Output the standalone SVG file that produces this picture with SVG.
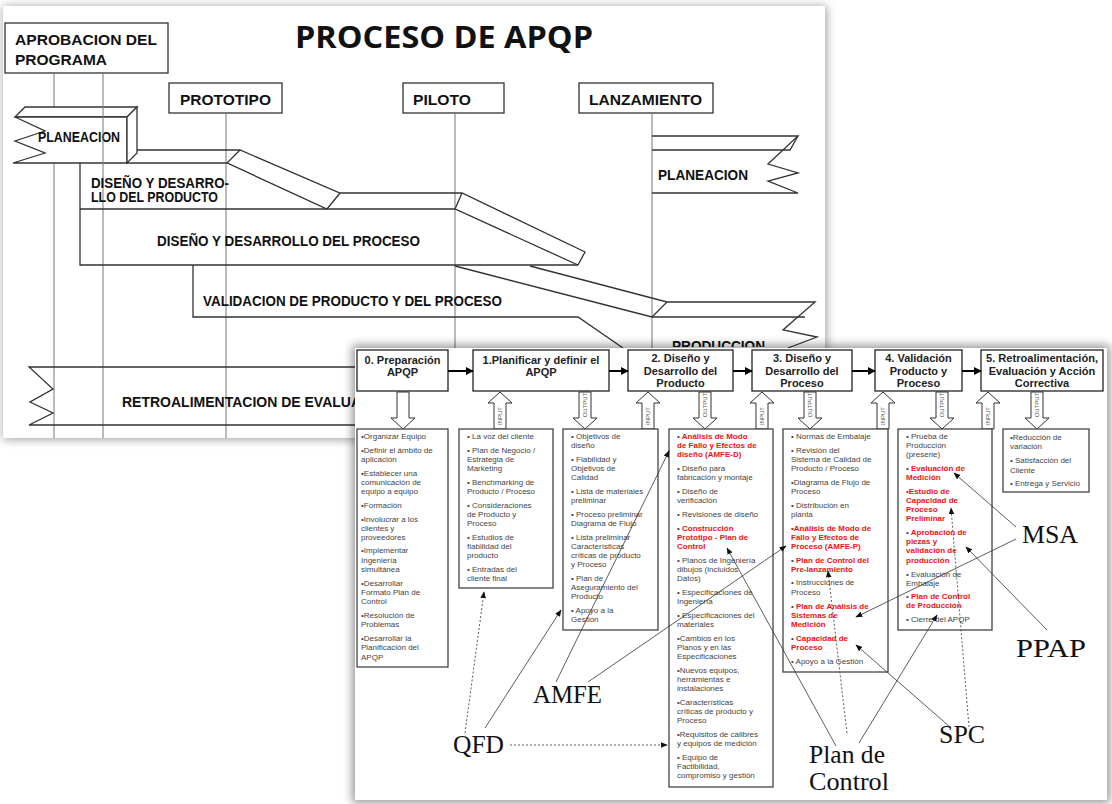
<svg xmlns="http://www.w3.org/2000/svg" width="1112" height="804" viewBox="0 0 1112 804">
<defs>
<filter id="blur" x="-10%" y="-10%" width="120%" height="120%"><feGaussianBlur stdDeviation="5"/></filter>
<clipPath id="topclip"><rect x="0" y="0" width="1112" height="347"/></clipPath>
<marker id="hd" viewBox="0 0 10 10" refX="9" refY="5" markerWidth="8" markerHeight="8" markerUnits="userSpaceOnUse" orient="auto"><path d="M0,0 L10,5 L0,10 z" fill="#000"/></marker>
<marker id="ah" viewBox="0 0 10 10" refX="9" refY="5" markerWidth="7" markerHeight="7" markerUnits="userSpaceOnUse" orient="auto"><path d="M0,1 L10,5 L0,9 z" fill="#111"/></marker>
<path id="dn" d="M-6,0 h12 v26 h6 l-12,11 l-12,-11 h6 z"/>
<path id="up" d="M0,0 l12,11 h-6 v26 h-12 v-26 h-6 z"/>
</defs>
<style>
.bl{fill:none;stroke:#333;stroke-width:1.3}
.bf{fill:#fff;stroke:#333;stroke-width:1.3}
.vl{stroke:#777;stroke-width:1}
.bt{font-family:"Liberation Sans",Arial,sans-serif;font-weight:bold;font-size:14px;fill:#111}
.hb{fill:#fff;stroke:#222;stroke-width:1.3}
.ht{font-family:"Liberation Sans",Arial,sans-serif;font-weight:bold;font-size:11px;fill:#222;text-anchor:middle}
.ba{fill:#fff;stroke:#333;stroke-width:1}
.al{font-family:"Liberation Sans",Arial,sans-serif;font-size:6px;fill:#555;text-anchor:middle}
.cb{fill:#fff;stroke:#444;stroke-width:1.3}
.t{font-family:"Liberation Sans",Arial,sans-serif;font-size:8px;fill:#444}
.r{font-family:"Liberation Sans",Arial,sans-serif;font-size:8px;fill:#ee1111;font-weight:bold}
.g{fill:#444;font-weight:normal}
.lb{font-family:"Liberation Serif","Times New Roman",serif;font-size:25px;fill:#111}
.cn{fill:none;stroke:#333;stroke-width:0.8;marker-end:url(#ah)}
.dt{stroke-dasharray:2,2}
.ha{stroke:#000;stroke-width:2;marker-end:url(#hd)}
</style>
<rect width="1112" height="804" fill="#fff"/>

<!-- back slide -->
<g id="back-slide">
<rect x="3" y="6" width="824" height="434" fill="#000" opacity="0.35" filter="url(#blur)"/>
<rect x="3" y="6" width="822" height="432" fill="#fff"/>
<text x="295" y="48" font-family="'Open Sans','Liberation Sans',sans-serif" font-weight="bold" font-size="30" fill="#111" textLength="298" lengthAdjust="spacingAndGlyphs">PROCESO DE APQP</text>

<g id="milestone-aprobacion">
<rect x="5" y="23" width="163" height="50" class="bl"/>
<text class="bt" font-size="17" x="15" y="45" textLength="142" lengthAdjust="spacingAndGlyphs">APROBACION DEL</text>
<text class="bt" font-size="17" x="15" y="65" textLength="92" lengthAdjust="spacingAndGlyphs">PROGRAMA</text>
</g>
<g id="milestone-prototipo">
<rect x="169" y="83" width="113" height="30" class="bl"/>
<text class="bt" font-size="16" x="180" y="105" textLength="91" lengthAdjust="spacingAndGlyphs">PROTOTIPO</text>
</g>
<g id="milestone-piloto">
<rect x="403" y="83" width="101" height="30" class="bl"/>
<text class="bt" font-size="16" x="413" y="105" textLength="58" lengthAdjust="spacingAndGlyphs">PILOTO</text>
</g>
<g id="milestone-lanzamiento">
<rect x="579" y="83" width="134" height="30" class="bl"/>
<text class="bt" font-size="16" x="589" y="105" textLength="113" lengthAdjust="spacingAndGlyphs">LANZAMIENTO</text>
</g>

<g id="timelines">
<line class="vl" x1="54" y1="73" x2="54" y2="107"/>
<line class="vl" x1="54" y1="160" x2="54" y2="438"/>
<line class="vl" x1="226" y1="113" x2="226" y2="438"/>
<line class="vl" x1="455" y1="113" x2="455" y2="438"/>
<line class="vl" x1="652" y1="113" x2="652" y2="438"/>
</g>

<g id="band-planeacion-left">
<polygon class="bf" points="15,117 25,107 137,107 127,117"/>
<path class="bf" d="M15,117 L127,117 L127,163 L13,163 L45,153 L15,141 L45,131 Z"/>
<polygon class="bf" points="127,117 137,107 137,153 127,163"/>
<text class="bt" x="38" y="142" textLength="82" lengthAdjust="spacingAndGlyphs">PLANEACION</text>
</g>
<line class="vl" x1="103" y1="73" x2="103" y2="438"/>

<g id="band-producto" class="bl">
<path d="M137,150 L240,150 L340,193 L462,193 L585,252 L578,265"/>
<path d="M127,163 L227,163 L327,209 L455,209 L578,265"/>
<path d="M227,163 L240,150 M327,209 L340,193 M455,209 L462,193"/>
<path d="M80,163 L80,265 L578,265 M80,209 L327,209"/>
</g>
<text class="bt" x="91" y="188" textLength="138" lengthAdjust="spacingAndGlyphs">DISEÑO Y DESARRO-</text>
<text class="bt" x="91" y="202" textLength="127" lengthAdjust="spacingAndGlyphs">LLO DEL PRODUCTO</text>
<text class="bt" x="157" y="246" textLength="263" lengthAdjust="spacingAndGlyphs">DISEÑO Y DESARROLLO DEL PROCESO</text>

<g id="band-validacion" class="bl">
<path d="M193,265 L193,317 L578,317 L623,348"/>
<path d="M455,266 L652,317 L805,317"/>
<path d="M530,266 L667,302 L815,302 L783,330 L817,337 L788,348"/>
<path d="M667,302 L652,317"/>
</g>
<text class="bt" x="203" y="306" textLength="299" lengthAdjust="spacingAndGlyphs">VALIDACION DE PRODUCTO Y DEL PROCESO</text>
<g clip-path="url(#topclip)"><text class="bt" x="672" y="351" textLength="93" lengthAdjust="spacingAndGlyphs">PRODUCCION</text></g>

<g id="band-planeacion-right" class="bl">
<path d="M652,136 L798,136 L768,164 L798,173 L768,181 L798,193 L652,193"/>
<path d="M652,150 L790,150 L798,136"/>
</g>
<text class="bt" x="658" y="180" textLength="90" lengthAdjust="spacingAndGlyphs">PLANEACION</text>

<g id="band-retro">
<path class="bl" d="M360,367 L29,367 L53,389 L30,402 L53,413 L29,425 L360,425"/>
<text class="bt" x="122" y="407">RETROALIMENTACION DE EVALUACION</text>
</g>
</g>

<!-- front slide -->
<rect x="352" y="345" width="758" height="458" fill="#000" opacity="0.4" filter="url(#blur)"/>
<rect x="355" y="348" width="752" height="452" fill="#fff"/>

<g id="phase-0"><rect class="hb" x="357" y="350" width="91" height="41"/><text class="ht" x="402.5" y="364">0. Preparación</text><text class="ht" x="402.5" y="376">APQP</text></g>
<g id="phase-1"><rect class="hb" x="473" y="350" width="136" height="41"/><text class="ht" x="541" y="364">1.Planificar y definir el</text><text class="ht" x="541" y="376">APQP</text></g>
<g id="phase-2"><rect class="hb" x="628" y="350" width="105" height="41"/><text class="ht" x="680.5" y="362">2. Diseño y</text><text class="ht" x="680.5" y="374.5">Desarrollo del</text><text class="ht" x="680.5" y="387">Producto</text></g>
<g id="phase-3"><rect class="hb" x="752" y="350" width="100" height="41"/><text class="ht" x="802" y="362">3. Diseño y</text><text class="ht" x="802" y="374.5">Desarrollo del</text><text class="ht" x="802" y="387">Proceso</text></g>
<g id="phase-4"><rect class="hb" x="875" y="350" width="87" height="41"/><text class="ht" x="918.5" y="362">4. Validación</text><text class="ht" x="918.5" y="374.5">Producto y</text><text class="ht" x="918.5" y="387">Proceso</text></g>
<g id="phase-5"><rect class="hb" x="981" y="350" width="122" height="41"/><text class="ht" x="1042" y="362" textLength="112" lengthAdjust="spacingAndGlyphs">5. Retroalimentación,</text><text class="ht" x="1042" y="374.5">Evaluación y Acción</text><text class="ht" x="1042" y="387">Correctiva</text></g>

<g id="io-arrows">
<use href="#dn" x="403" y="392" class="ba"/>
<use href="#up" x="500" y="392" class="ba"/><text class="al" transform="translate(502.2,416) rotate(-90)">INPUT</text>
<use href="#dn" x="585" y="392" class="ba"/><text class="al" transform="translate(587.2,405) rotate(-90)">OUTPUT</text>
<use href="#up" x="648" y="392" class="ba"/><text class="al" transform="translate(650.2,416) rotate(-90)">INPUT</text>
<use href="#dn" x="705" y="392" class="ba"/><text class="al" transform="translate(707.2,405) rotate(-90)">OUTPUT</text>
<use href="#up" x="762" y="392" class="ba"/><text class="al" transform="translate(764.2,416) rotate(-90)">INPUT</text>
<use href="#dn" x="810" y="392" class="ba"/><text class="al" transform="translate(812.2,405) rotate(-90)">OUTPUT</text>
<use href="#up" x="883" y="392" class="ba"/><text class="al" transform="translate(885.2,416) rotate(-90)">INPUT</text>
<use href="#dn" x="942" y="392" class="ba"/><text class="al" transform="translate(944.2,405) rotate(-90)">OUTPUT</text>
<use href="#up" x="988" y="392" class="ba"/><text class="al" transform="translate(990.2,416) rotate(-90)">INPUT</text>
<use href="#dn" x="1037" y="392" class="ba"/><text class="al" transform="translate(1039.2,405) rotate(-90)">OUTPUT</text>
</g>

<g id="list-0">
<rect class="cb" x="357" y="429" width="91" height="238"/>
<text class="t" x="361" y="439">•Organizar Equipo</text>
<text class="t" x="361" y="453">•Definir el ámbito de</text>
<text class="t" x="361" y="462">aplicación</text>
<text class="t" x="361" y="475.5">•Establecer una</text>
<text class="t" x="361" y="484.7">comunicación de</text>
<text class="t" x="361" y="494">equipo a equipo</text>
<text class="t" x="361" y="508">•Formación</text>
<text class="t" x="361" y="521.5">•Involucrar a los</text>
<text class="t" x="361" y="530.5">clientes y</text>
<text class="t" x="361" y="540">proveedores</text>
<text class="t" x="361" y="553">•Implementar</text>
<text class="t" x="361" y="562.7">Ingeniería</text>
<text class="t" x="361" y="572">simultánea</text>
<text class="t" x="361" y="585.5">•Desarrollar</text>
<text class="t" x="361" y="594.7">Formato Plan de</text>
<text class="t" x="361" y="604">Control</text>
<text class="t" x="361" y="617.5">•Resolución  de</text>
<text class="t" x="361" y="626.5">Problemas</text>
<text class="t" x="361" y="641">•Desarrollar  la</text>
<text class="t" x="361" y="650.3">Planificación del</text>
<text class="t" x="361" y="659.5">APQP</text>
</g>

<g id="list-1">
<rect class="cb" x="459" y="429" width="94" height="159"/>
<text class="t" x="467" y="439">• La voz del cliente</text>
<text class="t" x="467" y="453">• Plan de Negocio /</text>
<text class="t" x="467" y="462">Estrategia de</text>
<text class="t" x="467" y="471">Marketing</text>
<text class="t" x="467" y="484.7">• Benchmarking de</text>
<text class="t" x="467" y="494">Producto / Proceso</text>
<text class="t" x="467" y="508">• Consideraciones</text>
<text class="t" x="467" y="517">de Producto y</text>
<text class="t" x="467" y="526">Proceso</text>
<text class="t" x="467" y="540">• Estudios de</text>
<text class="t" x="467" y="549">fiabilidad del</text>
<text class="t" x="467" y="558">producto</text>
<text class="t" x="467" y="572">• Entradas del</text>
<text class="t" x="467" y="581">cliente final</text>
</g>

<g id="list-2">
<rect class="cb" x="563" y="429" width="95" height="201"/>
<text class="t" x="571" y="439">• Objetivos  de</text>
<text class="t" x="571" y="448">diseño</text>
<text class="t" x="571" y="462">• Fiabilidad y</text>
<text class="t" x="571" y="471">Objetivos  de</text>
<text class="t" x="571" y="480">Calidad</text>
<text class="t" x="571" y="494">• Lista de materiales</text>
<text class="t" x="571" y="503">preliminar</text>
<text class="t" x="571" y="517">• Proceso preliminar</text>
<text class="t" x="571" y="526">Diagrama de Flujo</text>
<text class="t" x="571" y="540">• Lista preliminar</text>
<text class="t" x="571" y="549">Características</text>
<text class="t" x="571" y="558">críticas de producto</text>
<text class="t" x="571" y="567">y Proceso</text>
<text class="t" x="571" y="581">• Plan de</text>
<text class="t" x="571" y="590">Aseguramiento  del</text>
<text class="t" x="571" y="599">Producto</text>
<text class="t" x="571" y="613">• Apoyo a la</text>
<text class="t" x="571" y="622">Gestión</text>
</g>

<g id="list-2b">
<rect class="cb" x="669" y="429" width="104" height="358"/>
<text class="r" x="677" y="439"><tspan class="g">•</tspan> Análisis  de Modo</text>
<text class="r" x="677" y="448">de Fallo y Efectos de</text>
<text class="r" x="677" y="457">diseño (AMFE-D)</text>
<text class="t" x="677" y="471">• Diseño para</text>
<text class="t" x="677" y="480">fabricación y montaje</text>
<text class="t" x="677" y="494">• Diseño de</text>
<text class="t" x="677" y="503">verificación</text>
<text class="t" x="677" y="517">• Revisiones  de diseño</text>
<text class="r" x="677" y="531"><tspan class="g">•</tspan> Construcción</text>
<text class="r" x="677" y="540">Prototipo - Plan de</text>
<text class="r" x="677" y="549">Control</text>
<text class="t" x="677" y="563">• Planos de Ingeniería</text>
<text class="t" x="677" y="572">dibujos  (incluidos</text>
<text class="t" x="677" y="581">Datos)</text>
<text class="t" x="677" y="595">• Especificaciones de</text>
<text class="t" x="677" y="604">Ingeniería</text>
<text class="t" x="677" y="618">• Especificaciones del</text>
<text class="t" x="677" y="627">materiales</text>
<text class="t" x="677" y="641">•Cambios  en los</text>
<text class="t" x="677" y="650">Planos  y en las</text>
<text class="t" x="677" y="659">Especificaciones</text>
<text class="t" x="677" y="673">•Nuevos  equipos,</text>
<text class="t" x="677" y="682">herramientas  e</text>
<text class="t" x="677" y="691">instalaciones</text>
<text class="t" x="677" y="705">•Características</text>
<text class="t" x="677" y="714">críticas de producto y</text>
<text class="t" x="677" y="723">Proceso</text>
<text class="t" x="677" y="737">•Requisitos  de calibres</text>
<text class="t" x="677" y="746">y equipos de medición</text>
<text class="t" x="677" y="760">• Equipo de</text>
<text class="t" x="677" y="769">Factibilidad,</text>
<text class="t" x="677" y="778">compromiso  y gestión</text>
</g>

<g id="list-3">
<rect class="cb" x="783" y="429" width="105" height="243"/>
<text class="t" x="791" y="439">• Normas de Embalaje</text>
<text class="t" x="791" y="453">•  Revisión del</text>
<text class="t" x="791" y="462">Sistema de Calidad de</text>
<text class="t" x="791" y="471">Producto / Proceso</text>
<text class="t" x="791" y="485">•Diagrama de Flujo de</text>
<text class="t" x="791" y="494">Proceso</text>
<text class="t" x="791" y="508">• Distribución en</text>
<text class="t" x="791" y="517">planta</text>
<text class="r" x="791" y="531">•Análisis  de Modo de</text>
<text class="r" x="791" y="540">Fallo y Efectos de</text>
<text class="r" x="791" y="549">Proceso (AMFE-P)</text>
<text class="r" x="791" y="563"><tspan class="g">•</tspan> Plan de Control del</text>
<text class="r" x="791" y="572">Pre-lanzamiento</text>
<text class="t" x="791" y="585">• Instrucciones de</text>
<text class="t" x="791" y="594.7">Proceso</text>
<text class="r" x="791" y="609"><tspan class="g">•</tspan> Plan de Análisis  de</text>
<text class="r" x="791" y="618">Sistemas  de</text>
<text class="r" x="791" y="627">Medición</text>
<text class="r" x="791" y="641"><tspan class="g">•</tspan> Capacidad  de</text>
<text class="r" x="791" y="650">Proceso</text>
<text class="t" x="791" y="663.5">• Apoyo a la Gestión</text>
</g>

<g id="list-4">
<rect class="cb" x="898" y="429" width="94" height="201"/>
<text class="t" x="906" y="439">• Prueba de</text>
<text class="t" x="906" y="448">Producción</text>
<text class="t" x="906" y="457">(preserie)</text>
<text class="r" x="906" y="471"><tspan class="g">•</tspan> Evaluación  de</text>
<text class="r" x="906" y="480">Medición</text>
<text class="r" x="906" y="494">•Estudio de</text>
<text class="r" x="906" y="503">Capacidad de</text>
<text class="r" x="906" y="512">Proceso</text>
<text class="r" x="906" y="521">Preliminar</text>
<text class="r" x="906" y="535"><tspan class="g">•</tspan> Aprobación  de</text>
<text class="r" x="906" y="544">piezas y</text>
<text class="r" x="906" y="553">validación  de</text>
<text class="r" x="906" y="562.7">producción</text>
<text class="t" x="906" y="576.5">• Evaluación  de</text>
<text class="t" x="906" y="585.7">Embalaje</text>
<text class="r" x="906" y="599"><tspan class="g">•</tspan> Plan de Control</text>
<text class="r" x="906" y="608.3">de Producción</text>
<text class="t" x="906" y="622">• Cierre del APQP</text>
</g>

<g id="list-5">
<rect class="cb" x="1003" y="429" width="86" height="63"/>
<text class="t" x="1010" y="440">•Reducción de</text>
<text class="t" x="1010" y="449">variación</text>
<text class="t" x="1010" y="463">• Satisfacción del</text>
<text class="t" x="1010" y="472.5">Cliente</text>
<text class="t" x="1010" y="486">• Entrega y Servicio</text>
</g>

<g id="tool-qfd"><text class="lb" x="453" y="753" textLength="51" lengthAdjust="spacingAndGlyphs">QFD</text></g>
<g id="tool-amfe"><text class="lb" x="533" y="703" textLength="69" lengthAdjust="spacingAndGlyphs">AMFE</text></g>
<g id="tool-plan"><text class="lb" x="809" y="763" textLength="76" lengthAdjust="spacingAndGlyphs">Plan de</text><text class="lb" x="809" y="790" textLength="80" lengthAdjust="spacingAndGlyphs">Control</text></g>
<g id="tool-spc"><text class="lb" x="939" y="743" textLength="46" lengthAdjust="spacingAndGlyphs">SPC</text></g>
<g id="tool-msa"><text class="lb" x="1022" y="543" textLength="56" lengthAdjust="spacingAndGlyphs">MSA</text></g>
<g id="tool-ppap"><text class="lb" x="1016" y="657" textLength="70" lengthAdjust="spacingAndGlyphs">PPAP</text></g>

<g id="connectors">
<line class="ha" x1="448" y1="371" x2="473" y2="371"/>
<line class="ha" x1="609" y1="371" x2="628" y2="371"/>
<line class="ha" x1="733" y1="371" x2="752" y2="371"/>
<line class="ha" x1="852" y1="371" x2="875" y2="371"/>
<line class="ha" x1="962" y1="371" x2="981" y2="371"/>
<line class="cn dt" x1="465" y1="733" x2="484" y2="592"/>
<line class="cn" x1="485" y1="728" x2="561" y2="610"/>
<line class="cn dt" x1="510" y1="745" x2="667" y2="745"/>
<line class="cn" x1="556" y1="682" x2="669" y2="451"/>
<line class="cn" x1="588" y1="682" x2="786" y2="546"/>
<line class="cn" x1="836" y1="746" x2="727" y2="548"/>
<line class="cn dt" x1="847" y1="733" x2="828" y2="571"/>
<line class="cn" x1="859" y1="743" x2="937" y2="615"/>
<line class="cn" x1="950" y1="727" x2="856" y2="645"/>
<line class="cn dt" x1="969" y1="727" x2="951" y2="508"/>
<line class="cn" x1="1016" y1="527" x2="954" y2="473"/>
<line class="cn" x1="1016" y1="539" x2="856" y2="617"/>
<line class="cn" x1="1047" y1="630" x2="966" y2="547"/>
</g>
</svg>
